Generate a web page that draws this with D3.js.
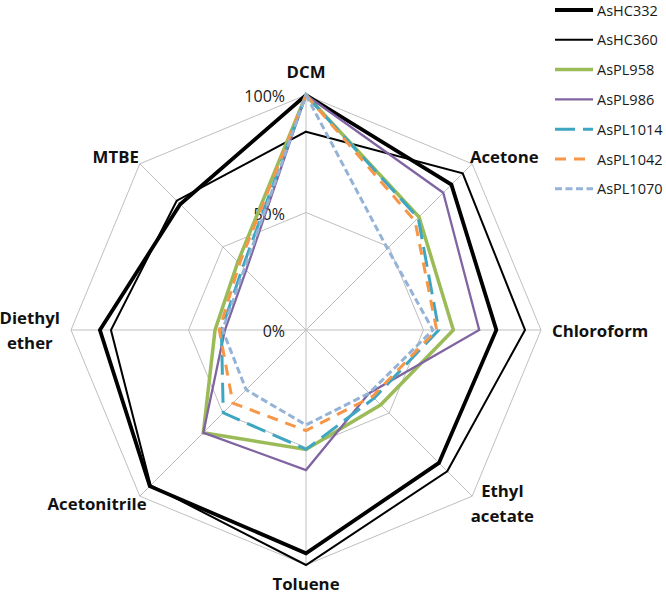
<!DOCTYPE html>
<html><head><meta charset="utf-8">
<script src="https://cdn.jsdelivr.net/npm/d3@7"></script>
<style>
html,body{margin:0;padding:0;background:#fff;}
svg{display:block;}
</style>
</head><body>
<svg id="chart" width="666" height="595"></svg>
<script>
// ---- data ----
const categories = ["DCM","Acetone","Chloroform","Ethyl acetate","Toluene","Acetonitrile","Diethyl ether","MTBE"];
const seriesNames = ["AsHC332","AsHC360","AsPL958","AsPL986","AsPL1014","AsPL1042","AsPL1070"];
const asHC332  = [1.00, 0.875, 0.81, 0.80, 0.95, 0.94, 0.877, 0.757];
const asHC360  = [0.844, 0.943, 0.932, 0.85, 1.00, 0.935, 0.83, 0.778];
const asPL958  = [1.00, 0.68, 0.627, 0.45, 0.508, 0.618, 0.387, 0.41];
const asPL986  = [1.00, 0.826, 0.737, 0.38, 0.596, 0.618, 0.345, 0.36];
const asPL1014 = [1.00, 0.675, 0.565, 0.41, 0.508, 0.498, 0.36, 0.38];
const asPL1042 = [1.00, 0.656, 0.556, 0.40, 0.428, 0.44, 0.369, 0.40];
const asPL1070 = [1.00, 0.49, 0.54, 0.38, 0.404, 0.36, 0.355, 0.37];
const tickValues = [0, 0.5, 1];
const tickLabels = ["0%","50%","100%"];

const seriesValues = [asHC332, asHC360, asPL958, asPL986, asPL1014, asPL1042, asPL1070];
const styles = [
  {color:"#000000", width:3.8, dash:null},
  {color:"#000000", width:2.0, dash:null},
  {color:"#9BBB59", width:3.5, dash:null},
  {color:"#8064A2", width:2.3, dash:null},
  {color:"#3FA6C2", width:3.0, dash:"20,8"},
  {color:"#F79646", width:3.0, dash:"11,8"},
  {color:"#95B3D7", width:3.0, dash:"7,3.5"}
];

// ---- layout ----
const svg = d3.select("#chart");
const cx = 306, cy = 330, R = 235;
const font = "'Open Sans', 'DejaVu Sans', sans-serif";

const r = d3.scaleLinear().domain([0,1]).range([0,R]);
const angle = d3.scaleLinear().domain([0, categories.length]).range([0, 2*Math.PI]);

const g = svg.append("g").attr("transform", `translate(${cx},${cy})`);

// grid rings
const ringLine = d3.lineRadial().angle((d,i)=>angle(i)).radius(d=>r(d)).curve(d3.curveLinearClosed);
tickValues.filter(v=>v>0).forEach(v=>{
  g.append("path").attr("d", ringLine(categories.map(()=>v)))
    .attr("fill","none").attr("stroke","#BFBFBF").attr("stroke-width",1);
});
// spokes
categories.forEach((c,i)=>{
  const a = angle(i);
  g.append("line").attr("x1",0).attr("y1",0)
    .attr("x2", r(1)*Math.sin(a)).attr("y2", -r(1)*Math.cos(a))
    .attr("stroke","#BFBFBF").attr("stroke-width",1);
});

// tick labels
tickValues.forEach((v,i)=>{
  g.append("text").attr("x",-21).attr("y",-r(v)+1)
    .attr("text-anchor","end").attr("dominant-baseline","central")
    .attr("font-family",font).attr("font-size",16).attr("fill","#1a1a1a")
    .text(tickLabels[i]);
});

// series
const seriesLine = d3.lineRadial().angle((d,i)=>angle(i)).radius(d=>r(d)).curve(d3.curveLinearClosed);
seriesValues.forEach((vals,k)=>{
  const s = styles[k];
  g.append("path").attr("d", seriesLine(vals))
    .attr("fill","none").attr("stroke",s.color).attr("stroke-width",s.width)
    .attr("stroke-linejoin","miter").attr("stroke-dasharray", s.dash);
});

// category labels
categories.forEach((c,i)=>{
  const a = angle(i);
  const dx = Math.sin(a), dy = -Math.cos(a);
  const vx = r(1)*dx, vy = r(1)*dy;
  const lines = c.split(" ");
  const t = g.append("text").attr("font-family",font).attr("font-weight","bold")
    .attr("font-size",16.8).attr("fill","#111").attr("text-anchor","middle");
  const lh = 25.5;
  lines.forEach((ln,j)=>{
    t.append("tspan").attr("x",0).attr("y",(j-(lines.length-1)/2)*lh)
      .attr("dominant-baseline","central").text(ln);
  });
  let maxW = 0;
  t.selectAll("tspan").each(function(){ maxW = Math.max(maxW, this.getComputedTextLength()); });
  let px, py;
  if (Math.abs(dx) < 0.1) {
    px = vx; py = vy + dy*(dy > 0 ? 18 : 24);
  } else if (Math.abs(dy) < 0.1) {
    px = vx + dx*11 + dx*maxW/2; py = vy;
  } else {
    px = vx + dx*11 + dx*maxW/2; py = vy + dy*10;
  }
  t.attr("transform", `translate(${px},${py})`);
});

// legend
const leg = svg.append("g");
seriesNames.forEach((n,i)=>{
  const y = 10 + 29.8*i;
  const s = styles[i];
  leg.append("line").attr("x1",555).attr("x2",593).attr("y1",y).attr("y2",y)
    .attr("stroke",s.color).attr("stroke-width",s.width).attr("stroke-dasharray",s.dash);
  leg.append("text").attr("x",597).attr("y",y).attr("dominant-baseline","central")
    .attr("font-family",font).attr("font-size",14.5).attr("fill","#1a1a1a").text(n);
});
</script>
</body></html>
